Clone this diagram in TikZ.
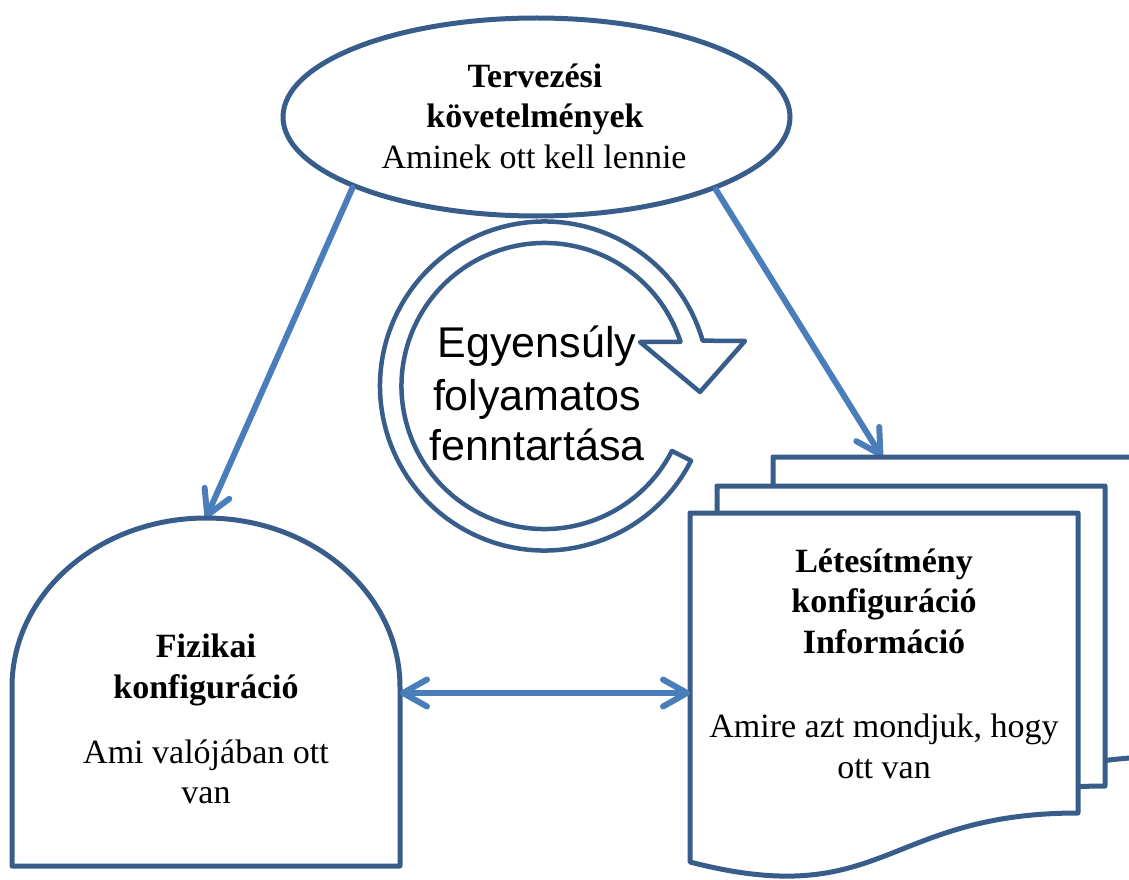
\documentclass[tikz,border=0pt]{standalone}
\usepackage{fontspec}
\setmainfont{Liberation Serif}
\newfontfamily\arialf{Liberation Sans}
\usetikzlibrary{shapes.geometric,arrows.meta,calc}
\definecolor{shpc}{RGB}{56,93,138}
\definecolor{conc}{RGB}{74,126,187}
\begin{document}
\begin{tikzpicture}[x=1pt,y=-1pt,
  shp/.style={draw=shpc, line width=5pt, line join=round, fill=white},
  barb/.tip={Straight Barb[length=24pt,width=27pt,round]},
  conn/.style={draw=conc, line width=6pt, line cap=round, -barb},
  dconn/.style={draw=conc, line width=6pt, line cap=round, barb-barb},
  txt/.style={anchor=base, inner sep=0pt, font=\fontsize{34}{41}\selectfont},
  btxt/.style={anchor=base, inner sep=0pt, font=\fontsize{34}{41}\selectfont\bfseries},
  ctxt/.style={anchor=base, inner sep=0pt, font=\arialf\fontsize{43}{52}\selectfont}]
\useasboundingbox (0,0) rectangle (1129,880);

% top ellipse
\node[ellipse, shp, minimum width=507pt, minimum height=198pt, inner sep=0pt] (tv) at (536.5,117) {};
\node[btxt] (tv1) at (535,88) {Tervezési};
\node[btxt] (tv2) at (535,128) {követelmények};
\node[txt]  (tv3) at (534,168) {Aminek ott kell lennie};

% connector end points
\coordinate (fizTop) at (206,518);
\coordinate (docTop) at (882,457);
\coordinate (fizR) at (400,693);
\coordinate (docL) at (690,693);

\draw[conn] (tv.201.4) -- (fizTop);
\draw[conn] (tv.338.6) -- (docTop);

% circular arrow
\coordinate (c) at (544.5,386);
\draw[shp, line width=4.5pt] ($(c)+(-18:143)$) arc[start angle=-18, end angle=-333, radius=143]
  -- ($(c)+(-333:164.5)$) arc[start angle=-333, end angle=-16, radius=164.5]
  -- (745,341) -- (700,392) -- (640,342) -- cycle;
\node[ctxt] (eg1) at (537,357) {Egyensúly};
\node[ctxt] (eg2) at (537,410) {folyamatos};
\node[ctxt] (eg3) at (537,460) {fenntartása};

% physical configuration
\draw[shp] (12,866) -- (12,687) arc[start angle=180, end angle=360, x radius=194, y radius=169]
  -- (400,866) -- cycle;
\node[btxt] (fz1) at (206,657) {Fizikai};
\node[btxt] (fz2) at (206,698) {konfiguráció};
\node[txt]  (fz3) at (206,763) {Ami valójában ott};
\node[txt]  (fz4) at (206,803) {van};

% document stack
\draw[shp] (773,457) -- (1161,457) -- (1161,757) .. controls (967,757) and (967,871) .. (773,806) -- cycle;
\draw[shp] (717,486) -- (1105,486) -- (1105,786) .. controls (911,786) and (911,886) .. (717,835) -- cycle;
\draw[shp] (690,513) -- (1078,513) -- (1078,813) .. controls (884,813) and (884,912) .. (690,862) -- cycle;
\node[btxt] (lt1) at (884,572) {Létesítmény};
\node[btxt] (lt2) at (884,612) {konfiguráció};
\node[btxt] (lt3) at (884,653) {Információ};
\node[txt]  (lt4) at (884,737) {Amire azt mondjuk, hogy};
\node[txt]  (lt5) at (884,778) {ott van};

% double arrow
\draw[dconn] (fizR) -- (docL);
\end{tikzpicture}
\end{document}
